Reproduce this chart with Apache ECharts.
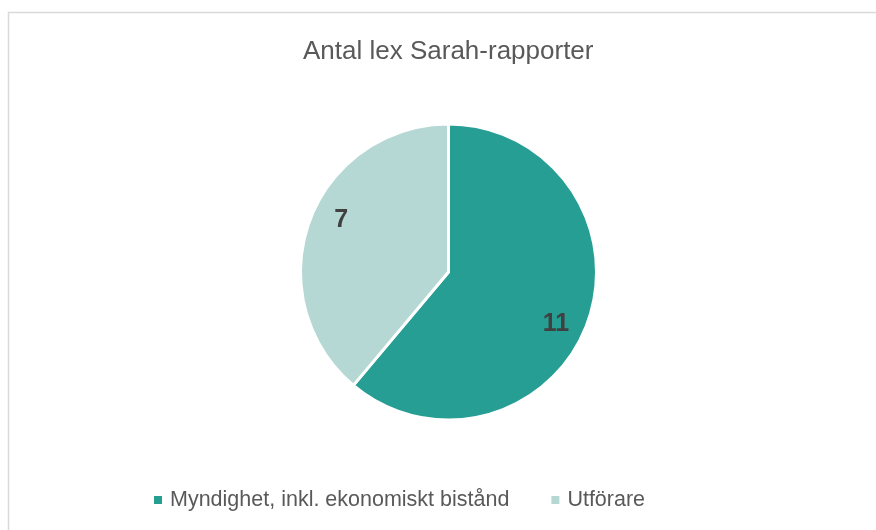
<!DOCTYPE html>
<html>
<head>
<meta charset="utf-8">
<script src="https://cdn.jsdelivr.net/npm/echarts@6/dist/echarts.min.js"></script>
<style>
  html, body { margin: 0; padding: 0; background: #fff; }
  #chart { width: 876px; height: 530px; }
</style>
</head>
<body>
<div id="chart"></div>
<script>
  const categories = ["Myndighet, inkl. ekonomiskt bistånd", "Utförare"];
  const values = [11, 7];
  const colors = ["#279e94", "#b5d8d5"];

  const pieData = categories.map((name, i) => ({ name: name, value: values[i], itemStyle: { color: colors[i] } }));

  const myChart = echarts.init(document.getElementById("chart"));
  myChart.setOption({
    animation: false,
    graphic: [{
      type: "rect",
      shape: { x: 8.5, y: 12.5, width: 880, height: 530 },
      style: { fill: "none", stroke: "#d9d9d9", lineWidth: 1.5 },
      silent: true
    }],
    title: {
      text: "Antal lex Sarah-rapporter",
      left: 298,
      top: 34,
      textStyle: { fontFamily: "Liberation Sans", fontSize: 26, fontWeight: "normal", color: "#595959" }
    },
    legend: {
      data: categories,
      bottom: 14,
      left: 147,
      icon: "rect",
      itemWidth: 10,
      itemHeight: 10,
      itemGap: 40,
      textStyle: { fontFamily: "Liberation Sans", fontSize: 21.5, color: "#595959", padding: [0, 0, 0, 2] }
    },
    series: [
      {
        type: "pie",
        center: [448.5, 272],
        radius: 148,
        startAngle: 90,
        data: pieData,
        label: { show: false },
        labelLine: { show: false },
        itemStyle: { borderColor: "#fff", borderWidth: 3 },
        emphasis: { disabled: true }
      },
      {
        // invisible copy, only to place the value labels further out
        type: "pie",
        center: [448.5, 272],
        radius: 233,
        startAngle: 84,
        silent: true,
        data: pieData.map(d => ({ name: d.name, value: d.value, itemStyle: { color: "rgba(0,0,0,0)" } })),
        label: {
          show: true,
          position: "inside",
          formatter: "{c}",
          fontFamily: "Liberation Sans",
          fontSize: 25,
          fontWeight: "bold",
          color: "#404040"
        },
        labelLine: { show: false },
        emphasis: { disabled: true }
      }
    ]
  });
</script>
</body>
</html>
